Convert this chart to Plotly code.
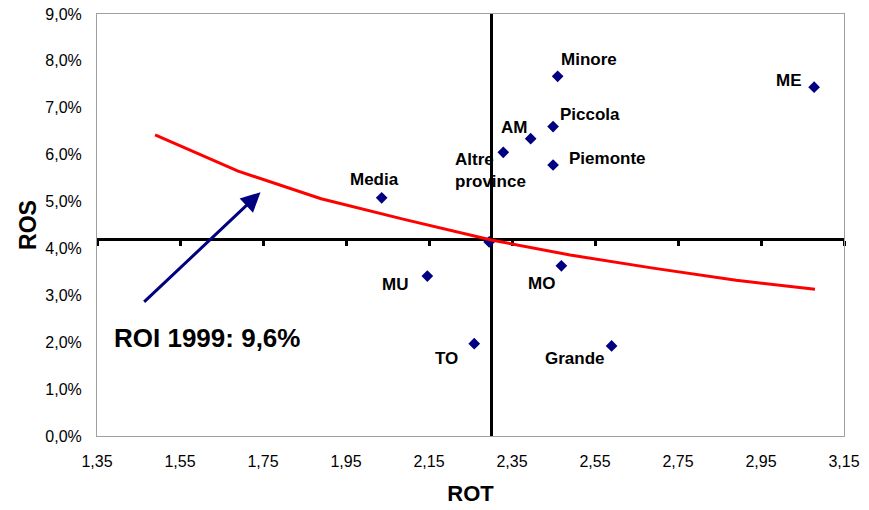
import plotly.graph_objects as go

# ---- data ----
companies = ["Minore", "ME", "Piccola", "AM", "Altre<br>province", "Piemonte",
             "Media", "", "MU", "MO", "TO", "Grande"]
rot_values = [2.460, 3.078, 2.449, 2.395, 2.329, 2.449, 2.036, 2.295, 2.146, 2.469, 2.259, 2.590]
ros_values = [7.67, 7.44, 6.60, 6.34, 6.05, 5.78, 5.08, 4.14, 3.41, 3.63, 1.97, 1.92]

# iso-ROI curve (ROI 1999 = 9,6%)
curve_rot = [1.49, 1.69, 1.89, 2.09, 2.30, 2.49, 2.69, 2.89, 3.08]
curve_ros = [6.42, 5.65, 5.06, 4.62, 4.18, 3.86, 3.58, 3.32, 3.13]

# axis crossing values
ROT_CROSS = 2.30
ROS_CROSS = 4.2

x_ticks = [1.35, 1.55, 1.75, 1.95, 2.15, 2.35, 2.55, 2.75, 2.95, 3.15]
x_tick_text = ["1,35", "1,55", "1,75", "1,95", "2,15", "2,35", "2,55", "2,75", "2,95", "3,15"]
y_ticks = [0, 1, 2, 3, 4, 5, 6, 7, 8, 9]
y_tick_text = ["0,0%", "1,0%", "2,0%", "3,0%", "4,0%", "5,0%", "6,0%", "7,0%", "8,0%", "9,0%"]

X_RANGE = [1.35, 3.15]
Y_RANGE = [0, 9]

roi_label = "ROI 1999: 9,6%"

# label offsets (pixels) relative to each point
label_dx = [31, -25, 37, -17, -13, 54, -7, 0, -32, -20, -28, -37]
label_dy = [17, 7, 12, 11, -18, 6, 18, 0, -8, -18, -15, -13]
label_align = ["center"] * 4 + ["left"] + ["center"] * 7

FONT = "Arial, Liberation Sans, sans-serif"

fig = go.Figure()

fig.add_trace(go.Scatter(
    x=rot_values, y=ros_values, mode="markers",
    marker=dict(symbol="diamond", size=9, color="#000080"),
    xaxis="x", yaxis="y", showlegend=False, hoverinfo="skip"))

fig.add_trace(go.Scatter(
    x=curve_rot, y=curve_ros, mode="lines",
    line=dict(color="#ff0000", width=3),
    xaxis="x2", yaxis="y2", showlegend=False, hoverinfo="skip"))

annotations = []
for name, xv, yv, dx, dy, al in zip(companies, rot_values, ros_values, label_dx, label_dy, label_align):
    if not name:
        continue
    annotations.append(dict(
        x=xv, y=yv, xref="x", yref="y", text="<b>" + name + "</b>",
        showarrow=False, xshift=dx, yshift=dy, align=al,
        font=dict(family=FONT, size=17, color="#000000")))

# arrow pointing at the curve
annotations.append(dict(
    x=1.744, y=5.20, ax=1.460, ay=2.83, xref="x", yref="y", axref="x", ayref="y",
    text="", showarrow=True, arrowhead=2, arrowsize=1.3, arrowwidth=3,
    arrowcolor="#000080", standoff=0, startstandoff=0))

annotations.append(dict(
    x=1.616, y=2.09, xref="x", yref="y", text="<b>" + roi_label + "</b>",
    showarrow=False, font=dict(family=FONT, size=26, color="#000000")))

fig.update_layout(
    width=869, height=510,
    margin=dict(l=97, r=25, t=14, b=74),
    paper_bgcolor="#ffffff", plot_bgcolor="#ffffff",
    font=dict(family=FONT, color="#000000"),
    annotations=annotations,
    xaxis=dict(
        range=X_RANGE, tickvals=x_ticks, ticktext=x_tick_text,
        showgrid=False, zeroline=False, showline=True, mirror=True,
        linecolor="#a0a0a0", linewidth=1, automargin=False, ticklabeloverflow="allow",
        ticks="outside", ticklen=11, tickcolor="#ffffff",
        tickfont=dict(family=FONT, size=16, color="#000000"),
        title=dict(text="<b>ROT</b>", font=dict(family=FONT, size=22, color="#000000"), standoff=16),
    ),
    yaxis=dict(
        range=Y_RANGE, tickvals=y_ticks, ticktext=y_tick_text,
        showgrid=False, zeroline=False, showline=True, mirror=True,
        linecolor="#a0a0a0", linewidth=1, automargin=False, ticklabeloverflow="allow",
        ticks="outside", ticklen=11, tickcolor="#ffffff",
        tickfont=dict(family=FONT, size=16, color="#000000"),
        title=dict(text="<b>ROS</b>", font=dict(family=FONT, size=23, color="#000000"), standoff=2),
    ),
    xaxis2=dict(
        range=X_RANGE, overlaying="x", anchor="free", position=(ROS_CROSS - Y_RANGE[0]) / (Y_RANGE[1] - Y_RANGE[0]),
        side="bottom", showgrid=False, zeroline=False, showline=True, automargin=False,
        linecolor="#000000", linewidth=3, tickvals=x_ticks, showticklabels=False,
        ticks="outside", ticklen=5, tickwidth=3, tickcolor="#000000", layer="below traces",
    ),
    yaxis2=dict(
        range=Y_RANGE, overlaying="y", anchor="free", position=(ROT_CROSS - X_RANGE[0]) / (X_RANGE[1] - X_RANGE[0]),
        side="left", showgrid=False, zeroline=False, showline=True, automargin=False,
        linecolor="#000000", linewidth=3, showticklabels=False, ticks="", layer="below traces",
    ),
)

fig.write_html("out.html", config={"displayModeBar": False},
               post_script="document.body.style.margin='0';document.body.style.overflow='hidden';")
